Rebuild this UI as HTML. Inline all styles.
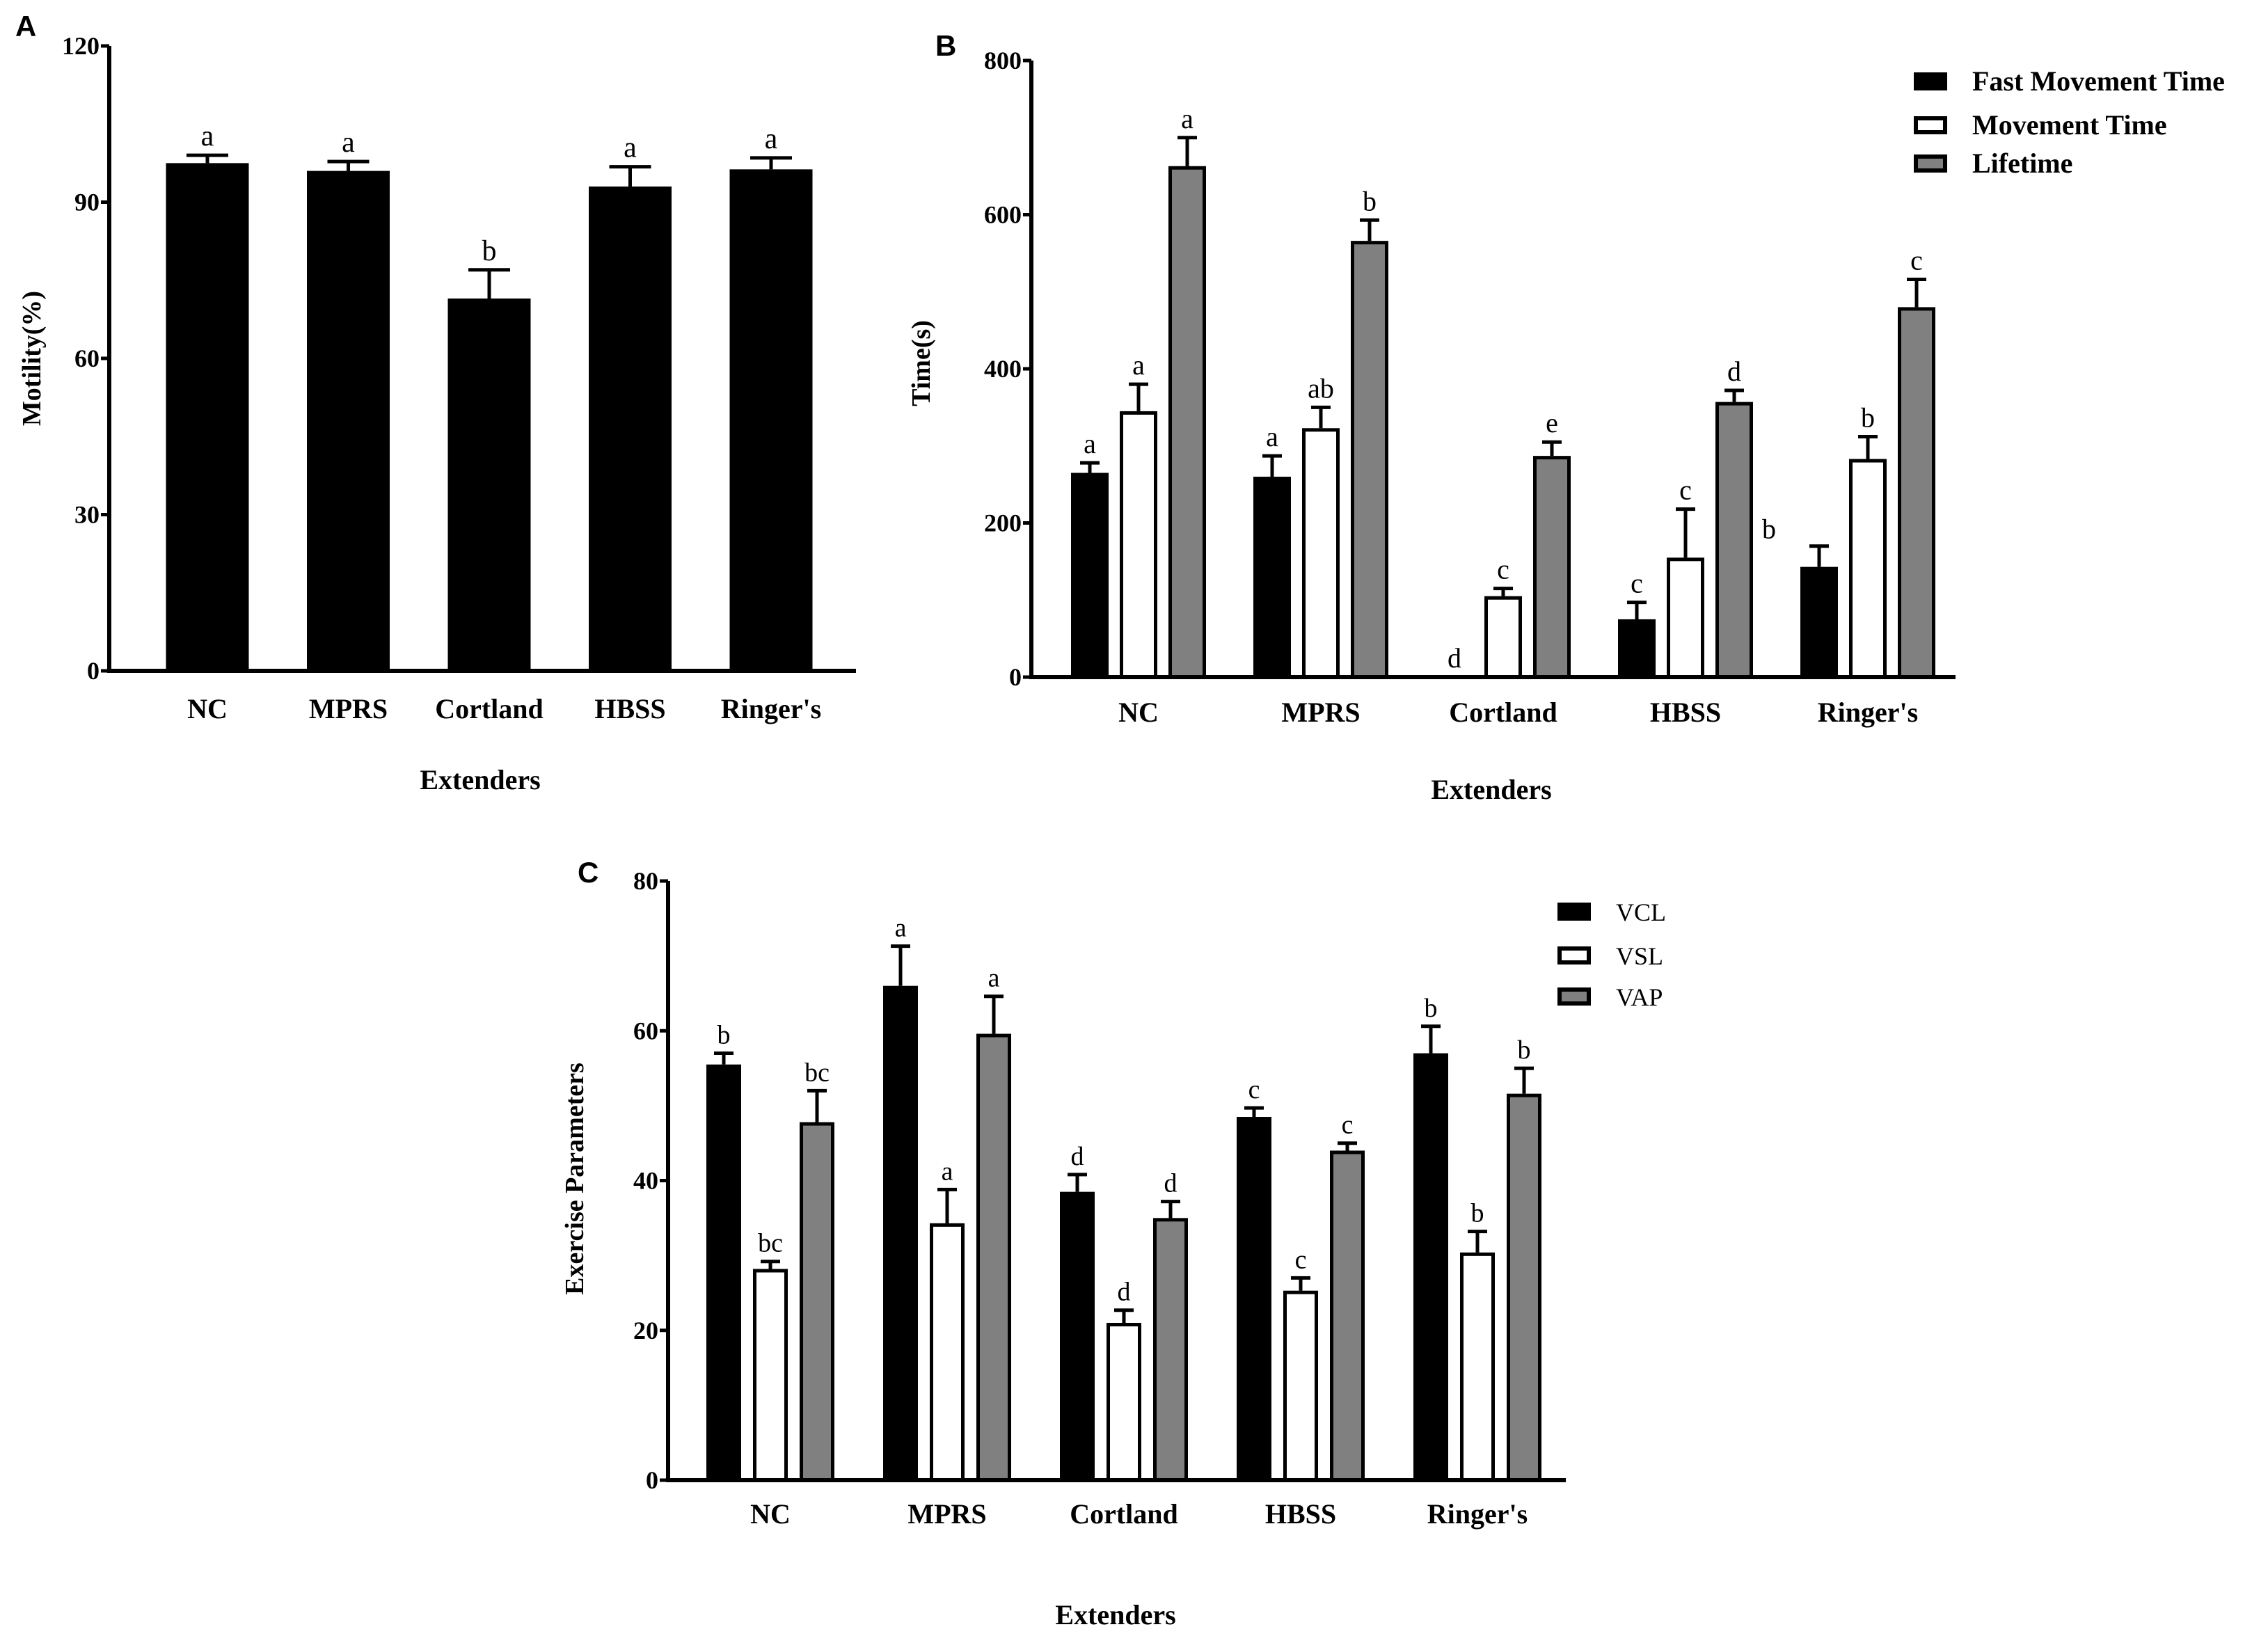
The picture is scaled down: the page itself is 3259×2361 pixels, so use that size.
<!DOCTYPE html>
<html><head><meta charset="utf-8"><style>
html,body{margin:0;padding:0;background:#fff;}
svg{display:block;font-family:"Liberation Serif",serif;}
</style></head><body>
<svg id="fig" width="3259" height="2361" viewBox="0 0 3259 2361" xmlns="http://www.w3.org/2000/svg">
<rect width="3259" height="2361" fill="#fff"/>
</svg>
<script>
const categories = ["NC","MPRS","Cortland","HBSS","Ringer's"];
// Panel A
const motility = [97.5, 96, 71.5, 93, 96.3];
const motilityErr = [1.5, 1.8, 5.5, 3.8, 2.2];
const motilityLetters = ["a","a","b","a","a"];
const ticksA = [0,30,60,90,120];
// Panel B
const seriesB = ["Fast Movement Time","Movement Time","Lifetime"];
const fastTime = [265, 260, 0, 75, 143];
const fastErr = [13, 27, 0, 22, 27];
const moveTime = [345, 323, 105, 155, 283];
const moveErr = [35, 27, 10, 63, 29];
const lifeTime = [663, 566, 287, 357, 480];
const lifeErr = [37, 27, 18, 15, 36];
const fastLetters = ["a","a","d","c","b"];
const moveLetters = ["a","ab","c","c","b"];
const lifeLetters = ["a","b","e","d","c"];
const ticksB = [0,200,400,600,800];
// Panel C
const seriesC = ["VCL","VSL","VAP"];
const vcl = [55.5, 66, 38.5, 48.5, 57];
const vclErr = [1.5, 5.3, 2.3, 1.2, 3.6];
const vsl = [28.2, 34.3, 21, 25.3, 30.4];
const vslErr = [1, 4.5, 1.7, 1.7, 2.8];
const vap = [47.8, 59.6, 35, 44, 51.6];
const vapErr = [4.2, 5, 2.2, 1, 3.4];
const vclLetters = ["b","a","d","c","b"];
const vslLetters = ["bc","a","d","c","b"];
const vapLetters = ["bc","a","d","c","b"];
const ticksC = [0,20,40,60,80];

const svg = document.getElementById('fig');
const NS = "http://www.w3.org/2000/svg";
function mk(tag, attrs, parent){
  const e = document.createElementNS(NS, tag);
  for (const k in attrs) e.setAttribute(k, attrs[k]);
  (parent||svg).appendChild(e);
  return e;
}
function txt(s, x, y, size, weight, anchor, parent, extra){
  const t = mk('text', Object.assign({x:x, y:y, 'font-size':size, 'font-weight':weight, 'text-anchor':anchor, fill:'#000'}, extra||{}), parent);
  t.textContent = s;
  return t;
}

function panel(cfg){
  const g = mk('g', {});
  
  
  const ys = v => cfg.y0 - (v - 0) / cfg.ymax * (cfg.y0 - cfg.yTop);
  cfg.ticks.forEach(tv => {
    const y = ys(tv);
    const tk = mk('line', {x1:cfg.x0-12, x2:cfg.x0, y1:y, y2:y, stroke:'#000','stroke-width':5}, g);
    
    
    const tl = txt(String(tv), cfg.x0-14, y+12, 36, 'bold', 'end', g);
    
    
  });
  const letterLayer = [];
  cfg.series.forEach((s, si) => {
    categories.forEach((c, ci) => {
      const cx = cfg.firstCenter + ci*cfg.groupPitch + (si - (cfg.series.length-1)/2)*cfg.barPitch;
      const v = s.values[ci], e = s.err[ci];
      const yTop = ys(v);
      const sw = s.fill === '#000' ? 0 : 5;
      if (v > 0) {
        const r = mk('rect', {x:cx-cfg.barW/2+sw/2, y:yTop+sw/2, width:cfg.barW-sw, height:Math.max(0,cfg.y0-yTop-sw/2), fill:s.fill, stroke:'#000','stroke-width':sw}, g);
        
        
      }
      if (e > 0) {
        const ye = ys(v+e);
        const el = mk('path', {d:`M${cx} ${yTop} V${ye} M${cx-cfg.capW/2} ${ye} H${cx+cfg.capW/2}`, stroke:'#000','stroke-width':5, fill:'none'}, g);
        
        
      }
      if (s.letters) {
        let lx = cx, ly = ys(v+e) - 14;
        if (s.offsetLetter && s.offsetLetter[0] === ci) { lx += s.offsetLetter[1]; ly = ys(s.offsetLetter[2]); }
        letterLayer.push([s.letters[ci], lx, ly]);
      }
    });
  });
  letterLayer.forEach(L => {
    const lt = txt(L[0], L[1], L[2], cfg.letterSize, 'normal', 'middle', g);
    
    
  });
  const ax = mk('path', {d:`M${cfg.x0} ${cfg.yTop} V${cfg.y0} H${cfg.xEnd}`, stroke:'#000','stroke-width':6, fill:'none'}, g);
  
  
  categories.forEach((c, ci) => {
    const t = txt(c, cfg.firstCenter + ci*cfg.groupPitch, cfg.labelY, 40, 'bold', 'middle', g);
    
    
  });
  const xt = txt('Extenders', cfg.xTitle[0], cfg.xTitle[1], 40, 'bold', 'middle', g);
  
  
  const yt = txt(cfg.yTitle, 0, 0, 38, 'bold', 'middle', g, {transform:`translate(${cfg.yTitlePos[0]},${cfg.yTitlePos[1]}) rotate(-90)`});
  
  
  const pl = txt(cfg.panelLabel, cfg.panelPos[0], cfg.panelPos[1], 42, 'bold', 'start', g, {'font-family':'"Liberation Sans", sans-serif'});
  
  
  if (cfg.legend) {
    cfg.series.forEach((s, si) => {
      const ly = cfg.legend.ys[si];
      const sw = s.fill === '#000' ? 0 : 6;
      const r = mk('rect', {x:cfg.legend.x+sw/2, y:ly-13+sw/2, width:48-sw, height:26-sw, fill:s.fill, stroke:'#000','stroke-width':sw}, g);
      
      
      const lt = txt(s.label, cfg.legend.x+84, ly+13, cfg.legend.size, cfg.legend.weight, 'start', g);
      
      
    });
  }
}

panel({name:'panel-a', x0:157, xEnd:1230, yTop:66, y0:964, ymax:120, ticks:ticksA,
  firstCenter:298, groupPitch:202.5, barPitch:0, barW:119, capW:60, letterSize:42,
  series:[{key:'motility', label:'Motility', values:motility, err:motilityErr, fill:'#000', letters:motilityLetters}],
  labelY:1032, xTitle:[690,1134], yTitle:'Motility(%)', yTitlePos:[58,515], panelLabel:'A', panelPos:[22,52]});

panel({name:'panel-b', x0:1482, xEnd:2810, yTop:87, y0:973, ymax:800, ticks:ticksB,
  firstCenter:1636, groupPitch:262, barPitch:70, barW:54, capW:28, letterSize:40,
  series:[
    {key:'fast', label:seriesB[0], values:fastTime, err:fastErr, fill:'#000', letters:fastLetters, offsetLetter:[4,-72,180]},
    {key:'movement', label:seriesB[1], values:moveTime, err:moveErr, fill:'#fff', letters:moveLetters},
    {key:'lifetime', label:seriesB[2], values:lifeTime, err:lifeErr, fill:'#808080', letters:lifeLetters}],
  labelY:1037, xTitle:[2143,1148], yTitle:'Time(s)', yTitlePos:[1336,522], panelLabel:'B', panelPos:[1344,80],
  legend:{x:2750, ys:[117,180,235], size:40, weight:'bold'}});

panel({name:'panel-c', x0:960, xEnd:2250, yTop:1266, y0:2127, ymax:80, ticks:ticksC,
  firstCenter:1107, groupPitch:254, barPitch:67, barW:50, capW:28, letterSize:38,
  series:[
    {key:'vcl', label:seriesC[0], values:vcl, err:vclErr, fill:'#000', letters:vclLetters},
    {key:'vsl', label:seriesC[1], values:vsl, err:vslErr, fill:'#fff', letters:vslLetters},
    {key:'vap', label:seriesC[2], values:vap, err:vapErr, fill:'#808080', letters:vapLetters}],
  labelY:2189, xTitle:[1603,2334], yTitle:'Exercise Parameters', yTitlePos:[838,1694], panelLabel:'C', panelPos:[830,1268],
  legend:{x:2238, ys:[1310,1373,1432], size:36, weight:'normal'}});
</script>
</body></html>
